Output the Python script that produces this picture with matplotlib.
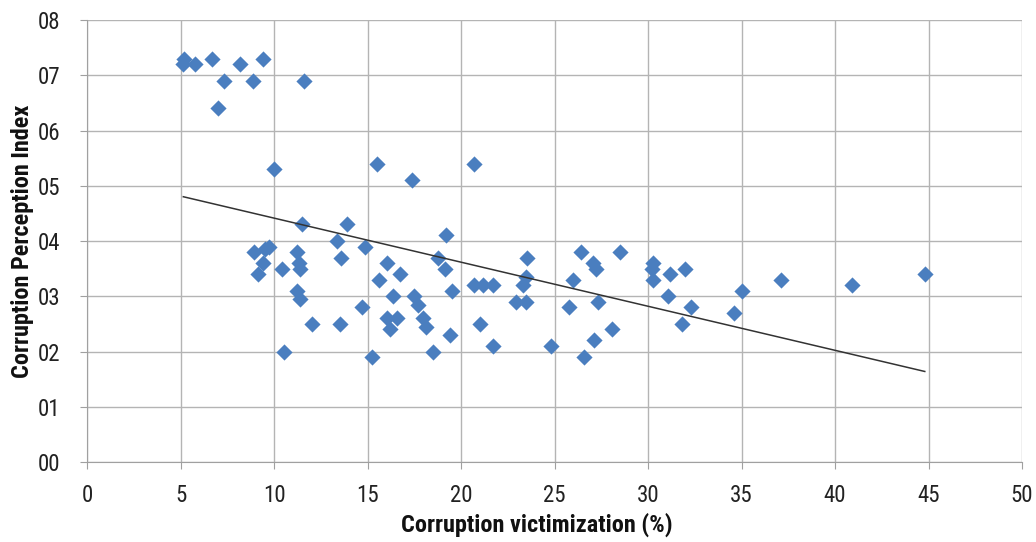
import numpy as np
import matplotlib
matplotlib.use("Agg")
import matplotlib.pyplot as plt
from matplotlib.ticker import FuncFormatter

plt.rcParams['font.family'] = ['Roboto Condensed', 'Liberation Sans Narrow', 'Roboto', 'DejaVu Sans']

# corruption victimization (%) and CPI
victim = [5.2, 5.15, 5.75, 6.7, 8.2, 9.4, 7.3, 8.85, 11.6, 7.0, 10.0, 15.5, 17.4, 20.7,
          8.95, 9.75, 9.5, 9.4, 9.15, 10.4, 10.55, 11.5, 11.25, 11.35, 11.4, 11.25, 11.4,
          12.05, 13.9, 13.35, 13.6, 13.55, 14.85, 14.7, 15.25, 16.05, 15.6, 16.75, 16.35,
          16.05, 16.6, 16.2, 17.5, 17.7, 17.95, 18.15, 18.5, 19.2, 18.75, 19.15, 19.5,
          19.4, 20.7, 21.2, 21.7, 21.0, 21.7, 23.55, 23.3, 23.5, 22.95, 23.5,
          24.8, 26.4, 26.0, 27.05, 27.2, 25.75, 27.35, 27.1, 26.55, 28.1, 28.5, 30.25,
          30.2, 30.25, 31.2, 32.0, 31.05, 32.3, 31.8, 34.6, 35.0, 37.1, 40.9, 44.8]
cpi = [7.3, 7.2, 7.2, 7.3, 7.2, 7.3, 6.9, 6.9, 6.9, 6.4, 5.3, 5.4, 5.1, 5.4,
       3.8, 3.9, 3.85, 3.6, 3.4, 3.5, 2.0, 4.3, 3.8, 3.6, 3.5, 3.1, 2.95,
       2.5, 4.3, 4.0, 3.7, 2.5, 3.9, 2.8, 1.9, 3.6, 3.3, 3.4, 3.0,
       2.6, 2.6, 2.4, 3.0, 2.85, 2.6, 2.45, 2.0, 4.1, 3.7, 3.5, 3.1,
       2.3, 3.2, 3.2, 3.2, 2.5, 2.1, 3.7, 3.2, 3.35, 2.9, 2.9,
       2.1, 3.8, 3.3, 3.6, 3.5, 2.8, 2.9, 2.2, 1.9, 2.4, 3.8, 3.6,
       3.5, 3.3, 3.4, 3.5, 3.0, 2.8, 2.5, 2.7, 3.1, 3.3, 3.2, 3.4]

x = np.array(victim)
y = np.array(cpi)

fig = plt.figure(figsize=(10.36, 5.42), dpi=100)
ax = fig.add_axes([0.084, 0.1476, 0.9025, 0.8155])

ax.scatter(x, y, marker='D', s=68, color='#4a7ebf', zorder=3, linewidths=0)

# linear trend line
k, b = np.polyfit(x, y, 1)
xs = np.array([x.min(), x.max()])
ax.plot(xs, k * xs + b, color='#333333', lw=1.1, zorder=4)

ax.set_xlim(0, 50)
ax.set_ylim(0, 8)
ax.set_xticks(range(0, 51, 5))
ax.set_yticks(range(0, 9))
ax.yaxis.set_major_formatter(FuncFormatter(lambda v, p: '%02d' % int(round(v))))

ax.grid(True, color='#b4b4b4', lw=1)
ax.set_axisbelow(True)
for s in ['top', 'right']:
    ax.spines[s].set_visible(False)
for s in ['left', 'bottom']:
    ax.spines[s].set_color('#a0a0a0')
ax.tick_params(colors='#a0a0a0', labelcolor='#222222', labelsize=16.5, length=5)
ax.tick_params(axis='x', pad=11)
ax.tick_params(axis='y', pad=14)

ax.set_xlabel('Corruption victimization (%)', fontsize=17.5, fontweight='bold',
              color='#111111')
ax.set_ylabel('Corruption Perception Index', fontsize=17.5, fontweight='bold',
              color='#111111')
ax.xaxis.set_label_coords(0.481, -0.142)
ax.yaxis.set_label_coords(-0.069, 0.5)
ax.xaxis.label.set_va('center')
ax.yaxis.label.set_va('center')

fig.savefig('out.png', dpi=100)
